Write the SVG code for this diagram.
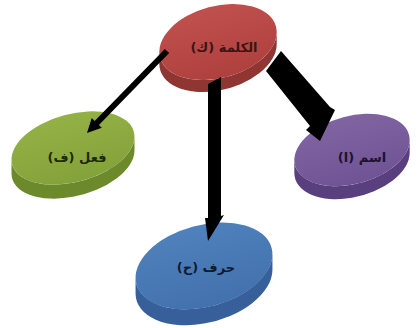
<svg xmlns="http://www.w3.org/2000/svg" width="420" height="328" viewBox="0 0 420 328">
<defs>
<linearGradient id="gRed" x1="0" y1="0" x2="0" y2="1"><stop offset="0" stop-color="#c0504d"/><stop offset="1" stop-color="#ae403d"/></linearGradient>
<linearGradient id="gGreen" x1="0" y1="0" x2="0" y2="1"><stop offset="0" stop-color="#93b145"/><stop offset="1" stop-color="#84a23a"/></linearGradient>
<linearGradient id="gPurple" x1="0" y1="0" x2="0" y2="1"><stop offset="0" stop-color="#8064a2"/><stop offset="1" stop-color="#6f5394"/></linearGradient>
<linearGradient id="gBlue" x1="0" y1="0" x2="0" y2="1"><stop offset="0" stop-color="#4f81bd"/><stop offset="1" stop-color="#4371ad"/></linearGradient>
<style>
.lbl{font-family:"DejaVu Sans",sans-serif;font-size:13px;font-weight:bold;text-anchor:middle;}
.arrow{fill:#000;}
</style>
</defs>
<rect width="420" height="328" fill="#fff"/>
<g id="node-kalima">
<path d="M159.3,51.81 L159.3,63.81 A60,36,-15,0,0,276.7,44.19 L276.7,32.19 A60,36,-15,0,1,159.3,51.81 Z" fill="#8f3532"/>
<ellipse cx="218" cy="42" rx="60" ry="36" transform="rotate(-15 218 42)" fill="url(#gRed)"/>
<text class="lbl" x="224" y="52" direction="rtl" fill="#3a1514">الكلمة (ك)</text>
</g>
<g id="node-fiil">
<path d="M11.51,159.44 L11.51,173.44 A63,34,-15,0,0,134.49,150.56 L134.49,136.56 A63,34,-15,0,1,11.51,159.44 Z" fill="#6c8a2b"/>
<ellipse cx="73" cy="148" rx="63" ry="34" transform="rotate(-15 73 148)" fill="url(#gGreen)"/>
<text class="lbl" x="77" y="162" direction="rtl" fill="#1f2a0a">فعل (ف)</text>
</g>
<g id="node-ism">
<path d="M294.33,160.08 L294.33,173.08 A59,34,-15,0,0,409.67,152.92 L409.67,139.92 A59,34,-15,0,1,294.33,160.08 Z" fill="#5a3f7e"/>
<ellipse cx="352" cy="150" rx="59" ry="34" transform="rotate(-15 352 150)" fill="url(#gPurple)"/>
<text class="lbl" x="362" y="162" direction="rtl" fill="#1e1230">اسم (ا)</text>
</g>
<g id="node-harf">
<path d="M135.56,277.76 L135.56,293.76 A70,41,-15,0,0,272.44,270.24 L272.44,254.24 A70,41,-15,0,1,135.56,277.76 Z" fill="#37609a"/>
<ellipse cx="204" cy="266" rx="70" ry="41" transform="rotate(-15 204 266)" fill="url(#gBlue)"/>
<text class="lbl" x="206" y="272" direction="rtl" fill="#0f1a30">حرف (ح)</text>
</g>
<g id="connectors">
<polygon class="arrow" points="164.85,48.91 94.62,120.89 91.76,118.09 87,133 101.78,127.87 98.92,125.07 169.15,53.09"/>
<polygon class="arrow" points="208,84 221,77 221,216 224,215 208,241 205,218 208,218"/>
<polygon class="arrow" points="266,71 281,51 330,107 335,110 320,141 306,130 310,126"/>
</g>
</svg>
